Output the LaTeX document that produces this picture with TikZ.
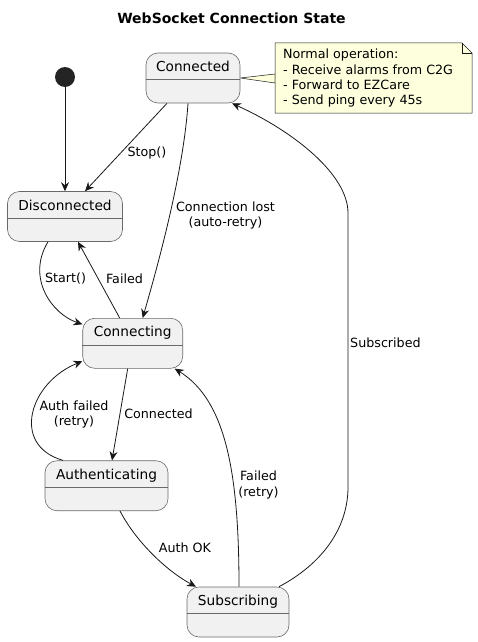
\documentclass[tikz,border=0pt]{standalone}
\usepackage{fontspec}
\setmainfont{DejaVu Sans}
\usetikzlibrary{calc,positioning,arrows.meta,backgrounds}
\definecolor{statefill}{HTML}{F1F1F1}
\definecolor{stateline}{HTML}{181818}
\definecolor{notefill}{HTML}{FEFFDD}

\begin{document}
\begin{tikzpicture}[x=1pt, y=-1pt,
    state/.style={draw=stateline!65, fill=statefill, line width=0.6pt, rounded corners=12pt, minimum height=50pt, inner sep=0pt},
    divline/.style={draw=stateline!65, line width=0.6pt},
    statename/.style={font=\fontsize{13.7}{16}\selectfont, anchor=base, inner sep=0pt},
    trans/.style={draw=stateline, line width=0.8pt, -{Stealth[length=9pt,width=8pt,inset=3pt]}},
    elabel/.style={font=\fontsize{12.7}{15.2}\selectfont, align=center, inner sep=0pt},
    initdot/.style={circle, fill=stateline!95, minimum size=20pt, inner sep=0pt},
    notebox/.style={draw=stateline, fill=notefill, line width=0.5pt},
    notetext/.style={font=\fontsize{12.7}{15.3}\selectfont, align=left, anchor=north west, inner sep=0pt}]

    \useasboundingbox (0,0) rectangle (477,642);

    \node[font=\bfseries\fontsize{14}{16}\selectfont] (title) at (231.5,18) {WebSocket Connection State};

    % states
    \node[initdot] (start) at (65,77) {};
    \node[state, minimum width=94pt]  (conn) at (193,78) {};
    \node[state, minimum width=115pt] (disc) at (65,216.5) {};
    \node[state, minimum width=100pt] (cing) at (132.7,343.3) {};
    \node[state, minimum width=123pt] (auth) at (106.5,485.7) {};
    \node[state, minimum width=102pt] (subs) at (238,612) {};

    \draw[divline] ([yshift=-1.5pt]conn.west) -- ([yshift=-1.5pt]conn.east);
    \draw[divline] ([yshift=-1.5pt]disc.west) -- ([yshift=-1.5pt]disc.east);
    \draw[divline] ([yshift=-1.5pt]cing.west) -- ([yshift=-1.5pt]cing.east);
    \draw[divline] ([yshift=-1.5pt]auth.west) -- ([yshift=-1.5pt]auth.east);
    \draw[divline] ([yshift=-1.5pt]subs.west) -- ([yshift=-1.5pt]subs.east);

    \node[statename] (conn-t) at ([yshift=6.5pt]conn.center) {Connected};
    \node[statename] (disc-t) at ([yshift=6.5pt]disc.center) {Disconnected};
    \node[statename] (cing-t) at ([yshift=6.5pt]cing.center) {Connecting};
    \node[statename] (auth-t) at ([yshift=6.5pt]auth.center) {Authenticating};
    \node[statename] (subs-t) at ([yshift=6.5pt]subs.center) {Subscribing};

    % note
    \node[notetext] (note) at (283,49) {Normal operation:\\- Receive alarms from C2G\\- Forward to EZCare\\- Send ping every 45s};
    \coordinate (notetip) at (275,78.5);
    \begin{scope}[on background layer]
        \filldraw[notebox] (conn.east) -- ([yshift=4.5pt]notetip) -- ([yshift=-4.5pt]notetip) -- cycle;
        \filldraw[notebox] (275,43) -- (462,43) -- (472,53) -- (472,113) -- (275,113) -- cycle;
        \draw[notebox, fill=none] (462,43) -- (462,53) -- (472,53);
    \end{scope}

    % transitions
    \draw[trans] (start) -- (disc.north);
    \draw[trans] ([xshift=-26pt]conn.south) -- ([xshift=20pt]disc.north);
    \draw[trans] ([xshift=-5pt]conn.south) .. controls (183,180) and (152,285) .. ([xshift=10pt]cing.north);
    \draw[trans] ([xshift=-17pt]disc.south) .. controls (26,278) and (52,314) .. ([yshift=19pt]cing.west);
    \draw[trans] ([xshift=-13pt]cing.north) -- ([xshift=13pt]disc.south);
    \draw[trans] ([xshift=-5pt]cing.south) -- ([xshift=5.5pt]auth.north);
    \draw[trans] ([xshift=-43.5pt]auth.north) .. controls (10,445) and (30,382) .. ([yshift=-18pt]cing.west);
    \draw[trans] ([xshift=13.5pt]auth.south) .. controls (135,540) and (165,570) .. ([xshift=-42pt]subs.north);
    \draw[trans] ([xshift=1pt]subs.north) .. controls (239,470) and (225,400) .. ([xshift=42pt]cing.south);
    \draw[trans] ([xshift=41pt]subs.north) .. controls (320,565) and (348,530) .. (348,487) -- (348,213)
        .. controls (348,175) and (295,132) .. ([xshift=39pt]conn.south);

    % labels
    \node[elabel] (l-stop)  at (147,153)     {Stop()};
    \node[elabel] (l-lost)  at (225.5,215.5) {Connection lost\\(auto-retry)};
    \node[elabel] (l-start) at (65.5,279)    {Start()};
    \node[elabel] (l-fail)  at (124.5,279)   {Failed};
    \node[elabel] (l-conn)  at (158.5,414)   {Connected};
    \node[elabel] (l-authf) at (74,414.5)    {Auth failed\\(retry)};
    \node[elabel] (l-ok)    at (185,548)     {Auth OK};
    \node[elabel] (l-retry) at (258.5,485)   {Failed\\(retry)};
    \node[elabel, anchor=west] (l-subs) at (350,343) {Subscribed};
\end{tikzpicture}
\end{document}
